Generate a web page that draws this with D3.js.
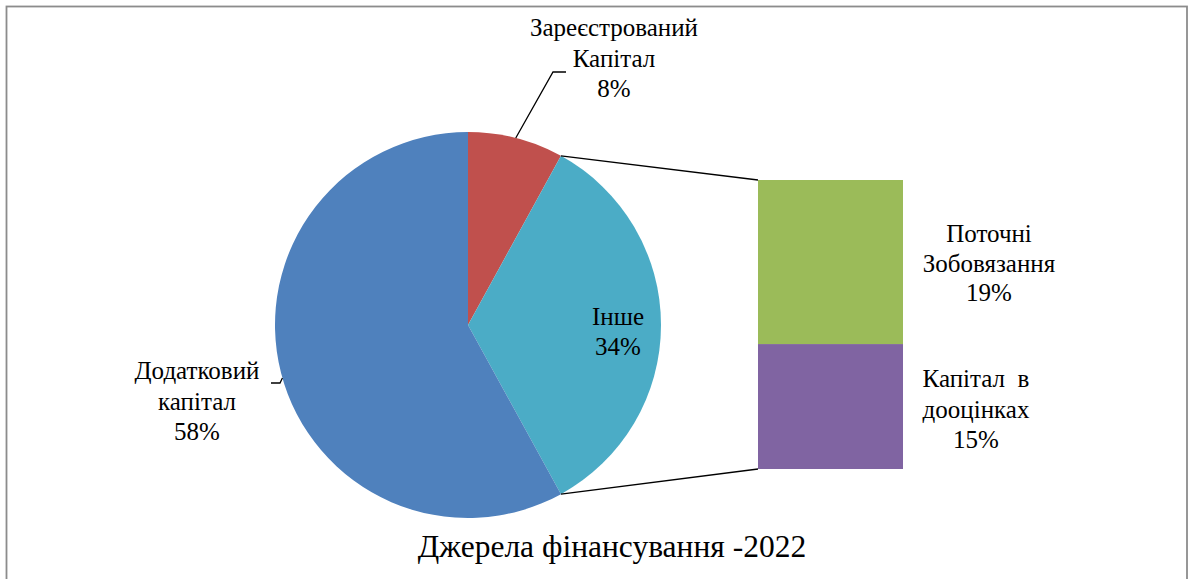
<!DOCTYPE html>
<html>
<head>
<meta charset="utf-8">
<script src="https://d3js.org/d3.v7.min.js"></script>
<style>
  body { margin: 0; background: #fff; }
  svg { display: block; }
</style>
</head>
<body>
<script>
// pie: main slices (clockwise from 12 o'clock)
var pieNames = [["Зареєстрований", "Капітал"], ["Інше"], ["Додатковий", "капітал"]];
var pieValues = [8, 34, 58];
var pieColors = ["#C0504D", "#4BACC6", "#4F81BD"];

// bar: breakdown of "Інше" (bottom to top)
var barNames = [["Капітал  в", "дооцінках"], ["Поточні", "Зобовязання"]];
var barValues = [14.7, 19.3];
var barLabels = ["15%", "19%"];
var barColors = ["#8064A2", "#9BBB59"];

var title = "Джерела фінансування -2022";

var width = 1190, height = 579;
var cx = 468, cy = 325, r = 193;

var svg = d3.select("body").append("svg")
    .attr("width", width)
    .attr("height", height);

// chart frame
svg.append("rect")
    .attr("x", 6.5).attr("y", 6.5)
    .attr("width", 1180.5).attr("height", 600)
    .attr("fill", "none")
    .attr("stroke", "#8c8c8c")
    .attr("stroke-width", 1.8);

var pie = d3.pie().sort(null).value(function(d) { return d; });
var arcs = pie(pieValues);
var arc = d3.arc().innerRadius(0).outerRadius(r);

var g = svg.append("g").attr("transform", "translate(" + cx + "," + cy + ")");
g.selectAll("path")
    .data(arcs)
    .enter().append("path")
    .attr("d", arc)
    .attr("fill", function(d, i) { return pieColors[i]; });

function onCircle(a) {
  return [cx + r * Math.sin(a), cy - r * Math.cos(a)];
}

// bar
var barX = 758, barW = 145;
var total = d3.sum(barValues);
var y = d3.scaleLinear().domain([0, total]).range([469, 180]);
var stacked = [];
var acc = 0;
barValues.forEach(function(v, i) {
  stacked.push({ y0: acc, y1: acc + v, i: i });
  acc += v;
});
svg.selectAll(".bar")
    .data(stacked)
    .enter().append("rect")
    .attr("class", "bar")
    .attr("x", barX)
    .attr("width", barW)
    .attr("y", function(d) { return y(d.y1); })
    .attr("height", function(d) { return y(d.y0) - y(d.y1); })
    .attr("fill", function(d) { return barColors[d.i]; });

// connectors from "Інше" slice to bar
var other = arcs[1];
var pTop = onCircle(other.startAngle), pBot = onCircle(other.endAngle);
svg.append("line")
    .attr("x1", pTop[0]).attr("y1", pTop[1])
    .attr("x2", barX).attr("y2", y(total))
    .attr("stroke", "#000").attr("stroke-width", 1.3);
svg.append("line")
    .attr("x1", pBot[0]).attr("y1", pBot[1])
    .attr("x2", barX).attr("y2", y(0))
    .attr("stroke", "#000").attr("stroke-width", 1.3);

// leader lines
var line = d3.line();
var redPt = onCircle(arcs[0].startAngle + 0.25);
svg.append("path")
    .attr("d", line([redPt, [553, 72], [566, 72]]))
    .attr("fill", "none").attr("stroke", "#000").attr("stroke-width", 1.3);
var bluePt = onCircle(Math.PI * 2 - Math.acos((cy - 378) / r));
svg.append("path")
    .attr("d", line([[271, 383], [280, 383], bluePt]))
    .attr("fill", "none").attr("stroke", "#000").attr("stroke-width", 1.3);

// text labels
function multiLabel(x, yTop, lines, step) {
  var t = svg.append("text")
      .attr("text-anchor", "middle")
      .attr("font-family", "Liberation Serif")
      .attr("font-size", 25)
      .attr("fill", "#000");
  lines.forEach(function(s, k) {
    t.append("tspan").attr("x", x).attr("y", yTop + k * (step || 30.5))
      .attr("xml:space", "preserve").text(s);
  });
}
function pct(v) { return Math.round(v) + "%"; }

multiLabel(614, 36, pieNames[0].concat([pct(pieValues[0])]));
multiLabel(618, 325, pieNames[1].concat([pct(pieValues[1])]), 29.5);
multiLabel(197, 379, pieNames[2].concat([pct(pieValues[2])]));
multiLabel(989, 242, barNames[1].concat([barLabels[1]]), 29.5);
multiLabel(976, 387, barNames[0].concat([barLabels[0]]));

svg.append("text")
    .attr("x", 612).attr("y", 557)
    .attr("text-anchor", "middle")
    .attr("font-family", "Liberation Serif")
    .attr("font-size", 31.5)
    .attr("fill", "#000")
    .text(title);
</script>
</body>
</html>
